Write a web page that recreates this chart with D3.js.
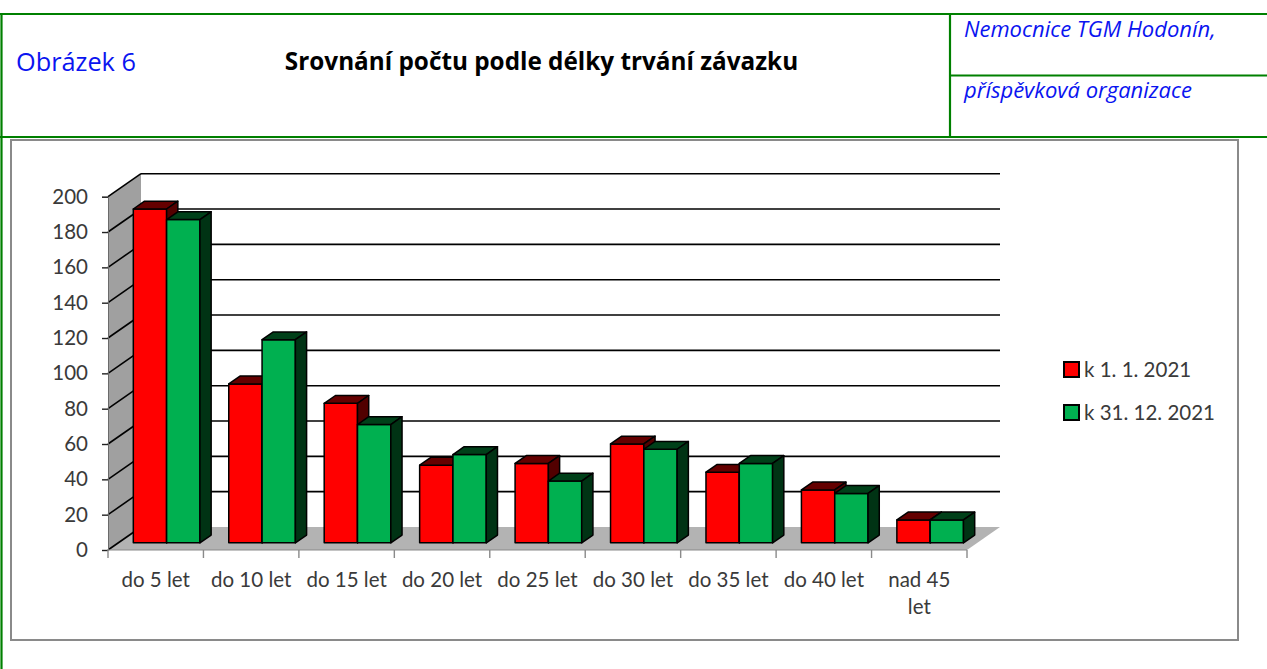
<!DOCTYPE html>
<html>
<head>
<meta charset="utf-8">
<script src="https://cdn.jsdelivr.net/npm/d3@7"></script>
<style>
  body { margin: 0; background: #fff; }
  svg { display: block; }
</style>
</head>
<body>
<svg></svg>
<script>
// data
const categories = ["do 5 let", "do 10 let", "do 15 let", "do 20 let", "do 25 let",
                    "do 30 let", "do 35 let", "do 40 let", "nad 45 let"];
const seriesNames = ["k 1. 1. 2021", "k 31. 12. 2021"];
const valuesStart = [189, 90, 79, 44, 45, 56, 40, 30, 13];
const valuesEnd = [183, 115, 67, 50, 35, 53, 45, 28, 13];
const yTicks = [0, 20, 40, 60, 80, 100, 120, 140, 160, 180, 200];

const svgWidth = 1267;
const svgHeight = 669;

const svg = d3.select("svg")
    .attr("width", svgWidth)
    .attr("height", svgHeight);

const frameGreen = "#008000";
const textColor = "#3a3a3a";
const chartFont = "Lato, 'Open Sans', sans-serif";

// header table
const head = svg.append("g")
    .attr("stroke", frameGreen)
    .attr("stroke-width", 2.2);
head.append("line").attr("x1", 0).attr("x2", svgWidth).attr("y1", 14).attr("y2", 14);
head.append("line").attr("x1", 0).attr("x2", svgWidth).attr("y1", 137).attr("y2", 137);
head.append("line").attr("x1", 1.5).attr("x2", 1.5).attr("y1", 13).attr("y2", svgHeight);
head.append("line").attr("x1", 950).attr("x2", 950).attr("y1", 14).attr("y2", 137);
head.append("line").attr("x1", 950).attr("x2", svgWidth).attr("y1", 75.5).attr("y2", 75.5);

svg.append("text")
    .attr("x", 16).attr("y", 71)
    .attr("font-family", "'Open Sans', sans-serif")
    .attr("font-size", 25.3)
    .attr("fill", "#0a14f0")
    .text("Obrázek 6");

svg.append("text")
    .attr("x", 541.5).attr("y", 70)
    .attr("text-anchor", "middle")
    .attr("font-family", "'Open Sans', sans-serif")
    .attr("font-weight", "bold")
    .attr("font-size", 24.3)
    .attr("fill", "#000")
    .text("Srovnání počtu podle délky trvání závazku");

svg.append("text")
    .attr("x", 964).attr("y", 37)
    .attr("font-family", "'Open Sans', sans-serif")
    .attr("font-style", "italic")
    .attr("font-size", 22)
    .attr("fill", "#0a14f0")
    .text("Nemocnice TGM Hodonín,");

svg.append("text")
    .attr("x", 964).attr("y", 98)
    .attr("font-family", "'Open Sans', sans-serif")
    .attr("font-style", "italic")
    .attr("font-size", 22)
    .attr("fill", "#0a14f0")
    .text("příspěvková organizace");

// chart frame
svg.append("rect")
    .attr("x", 11).attr("y", 140)
    .attr("width", 1227).attr("height", 500)
    .attr("fill", "#fff")
    .attr("stroke", "#8a8a8a")
    .attr("stroke-width", 2);

// 3d plot area
const DX = 33, DY = -23;
const x = d3.scaleBand().domain(categories).range([108, 967]);
const y = d3.scaleLinear().domain([0, 200]).range([550, 196.7]);
const x0 = x.range()[0], x1 = x.range()[1];
const bw = x.bandwidth();

const poly = pts => pts.map(p => p.join(",")).join(" ");

// floor
svg.append("polygon")
    .attr("points", poly([[x0, y(0)], [x0 + DX, y(0) + DY], [x1 + DX, y(0) + DY], [x1, y(0)]]))
    .attr("fill", "#b3b3b3");

// side wall
svg.append("polygon")
    .attr("points", poly([[x0, y(0)], [x0, y(200)], [x0 + DX, y(200) + DY], [x0 + DX, y(0) + DY]]))
    .attr("fill", "#a0a0a0");

// grid lines on back + side wall
const grid = svg.append("g").attr("stroke", "#000").attr("stroke-width", 1.6);
yTicks.forEach(v => {
    if (v > 0) {
        grid.append("line")
            .attr("x1", x0 + DX).attr("x2", x1 + DX)
            .attr("y1", y(v) + DY).attr("y2", y(v) + DY);
    }
    grid.append("line")
        .attr("x1", x0).attr("x2", x0 + DX)
        .attr("y1", y(v)).attr("y2", y(v) + DY);
});

// axes
const yAxis = svg.append("g")
    .attr("transform", `translate(${x0},0)`)
    .call(d3.axisLeft(y).tickValues(yTicks).tickSize(6).tickPadding(14));
yAxis.select(".domain").attr("stroke", "#6a6a6a");
yAxis.selectAll(".tick line").attr("stroke", "#222").attr("stroke-width", 1.4);
yAxis.selectAll("text")
    .attr("font-family", chartFont)
    .attr("font-size", 20.5)
    .attr("fill", textColor);

svg.append("line")
    .attr("x1", x0).attr("x2", x1)
    .attr("y1", y(0)).attr("y2", y(0))
    .attr("stroke", "#8a8a8a").attr("stroke-width", 1.2);

const boundaries = categories.map(c => x(c)).concat([x1]);
svg.append("g").selectAll("line")
    .data(boundaries)
    .enter().append("line")
    .attr("x1", d => d).attr("x2", d => d)
    .attr("y1", y(0)).attr("y2", y(0) + 8)
    .attr("stroke", "#8a8a8a").attr("stroke-width", 1.4);

const xLabels = svg.append("g")
    .attr("font-family", chartFont)
    .attr("font-size", 20.5)
    .attr("fill", textColor)
    .attr("text-anchor", "middle");

xLabels.selectAll("text")
    .data(categories)
    .enter().append("text")
    .attr("x", d => x(d) + bw / 2)
    .attr("y", 587)
    .each(function (d) {
        const t = d3.select(this);
        t.text(d);
        if (this.getComputedTextLength() > bw - 8) {
            const words = d.split(" ");
            const last = words.pop();
            t.text(null);
            t.append("tspan").attr("x", x(d) + bw / 2).attr("dy", 0).text(words.join(" "));
            t.append("tspan").attr("x", x(d) + bw / 2).attr("dy", 27).text(last);
        }
    });

// bars
const series = [
    { name: seriesNames[0], values: valuesStart, front: "#ff0000", top: "#640000", side: "#520000" },
    { name: seriesNames[1], values: valuesEnd, front: "#00b050", top: "#004019", side: "#003314" }
];
const z0 = 0.31, z1 = 0.65;
const barOffset = 0.158, barWidth = 0.349;

const bars = svg.append("g")
    .attr("stroke", "#000")
    .attr("stroke-width", 1.5)
    .attr("stroke-linejoin", "round");

categories.forEach((c, i) => {
    series.forEach((s, k) => {
        const v = s.values[i];
        const xl = x(c) + bw * barOffset + k * bw * barWidth;
        const w = bw * barWidth;
        const fx = xl + z0 * DX, bx = xl + z1 * DX;
        const fyTop = y(v) + z0 * DY, byTop = y(v) + z1 * DY;
        const fyBot = y(0) + z0 * DY, byBot = y(0) + z1 * DY;

        bars.append("polygon")
            .attr("points", poly([[fx, fyTop], [fx + w, fyTop], [fx + w, fyBot], [fx, fyBot]]))
            .attr("fill", s.front);
        bars.append("polygon")
            .attr("points", poly([[fx, fyTop], [fx + w, fyTop], [bx + w, byTop], [bx, byTop]]))
            .attr("fill", s.top);
        bars.append("polygon")
            .attr("points", poly([[fx + w, fyTop], [bx + w, byTop], [bx + w, byBot], [fx + w, fyBot]]))
            .attr("fill", s.side);
    });
});

// legend
const legend = svg.append("g")
    .attr("font-family", chartFont)
    .attr("font-size", 20.5)
    .attr("fill", textColor);

series.forEach((s, k) => {
    const ly = 362 + k * 43;
    legend.append("rect")
        .attr("x", 1064).attr("y", ly)
        .attr("width", 15).attr("height", 15)
        .attr("fill", s.front)
        .attr("stroke", "#000")
        .attr("stroke-width", 2);
    legend.append("text")
        .attr("x", 1084).attr("y", ly + 15)
        .text(s.name);
});
</script>
</body>
</html>
